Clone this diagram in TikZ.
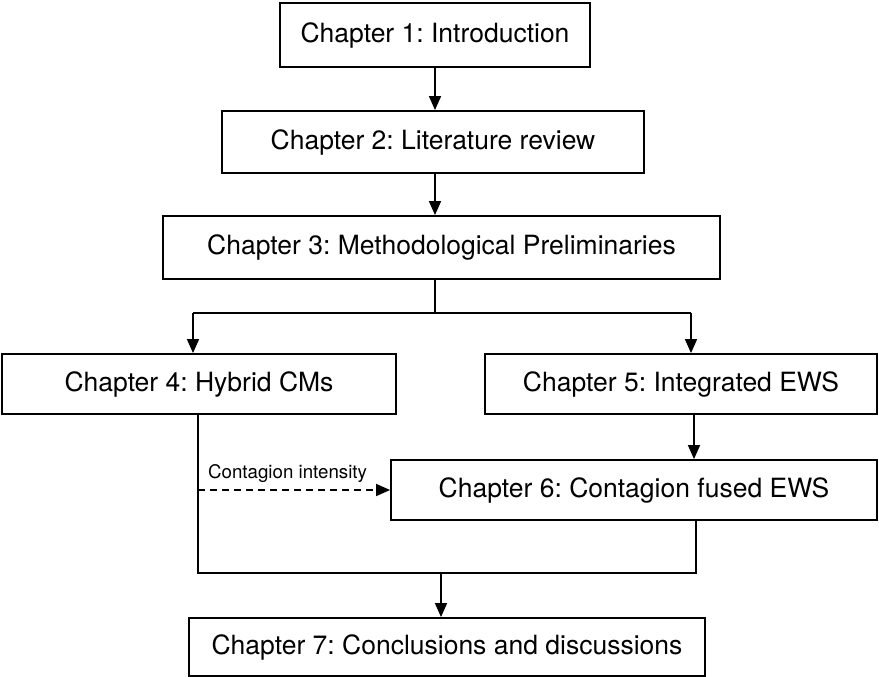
\documentclass[tikz,border=0pt]{standalone}
\usepackage{fontspec}
\setmainfont{TeX Gyre Heros}
\usetikzlibrary{arrows.meta}
\frenchspacing

\begin{document}
\begin{tikzpicture}[x=1pt,y=-1pt,
  chapbox/.style={draw=black, line width=1.8pt, rectangle, inner sep=0pt,
    font=\fontsize{26.5}{30}\selectfont},
  link/.style={line width=1.5pt, draw=black},
  arr/.style={link, -{Triangle[length=14pt,width=12pt]}},
  dashlink/.style={arr, dash pattern=on 7pt off 5pt}]

  % page frame
  \useasboundingbox (0,0) rectangle (879,677);

  % chapter boxes
  \node[chapbox, minimum width=310pt, minimum height=64pt] (b1) at (435,35)   {Chapter 1: Introduction};
  \node[chapbox, minimum width=422pt, minimum height=62pt] (b2) at (433,142)  {Chapter 2: Literature review};
  \node[chapbox, minimum width=557pt, minimum height=63pt] (b3) at (441.5,247.5) {Chapter 3: Methodological Preliminaries};
  \node[chapbox, minimum width=394pt, minimum height=60pt] (b4) at (199,384)  {Chapter 4: Hybrid CMs};
  \node[chapbox, minimum width=392pt, minimum height=60pt] (b5) at (681,384)  {Chapter 5: Integrated EWS};
  \node[chapbox, minimum width=486pt, minimum height=60pt] (b6) at (634,490)  {Chapter 6: Contagion fused EWS};
  \node[chapbox, minimum width=516pt, minimum height=58pt] (b7) at (447,647)  {Chapter 7: Conclusions and discussions};

  % junction points
  \coordinate (sp) at (435,313);
  \coordinate (jl) at (193,313);
  \coordinate (jr) at (691,313);
  \coordinate (c56) at (694,0);
  \coordinate (ml) at (198,573);
  \coordinate (mr) at (696,573);
  \coordinate (mm) at (441,573);

  % main chain
  \draw[arr] (b1.south) -- (b1.south |- b2.north);
  \draw[arr] (b2.south -| b1.south) -- (b3.north -| b1.south);

  % split after chapter 3
  \draw[link] (b3.south -| sp) -- (sp);
  \draw[link] (jl) -- (jr);
  \draw[arr] (jl) -- (jl |- b4.north);
  \draw[arr] (jr) -- (jr |- b5.north);

  % chapter 5 to chapter 6
  \draw[arr] (b5.south -| c56) -- (b6.north -| c56);

  % dashed feed from chapter 4 into chapter 6
  \draw[dashlink] (ml |- b6.west) -- (b6.west);
  \node[anchor=base west, inner sep=0pt, font=\fontsize{18.7}{22}\selectfont]
    (lbl) at (208,478) {Contagion intensity};

  % merge into chapter 7
  \draw[link] (b4.south -| ml) -- (ml) -- (mr) -- (b6.south -| mr);
  \draw[arr] (mm) -- (mm |- b7.north);
\end{tikzpicture}
\end{document}
